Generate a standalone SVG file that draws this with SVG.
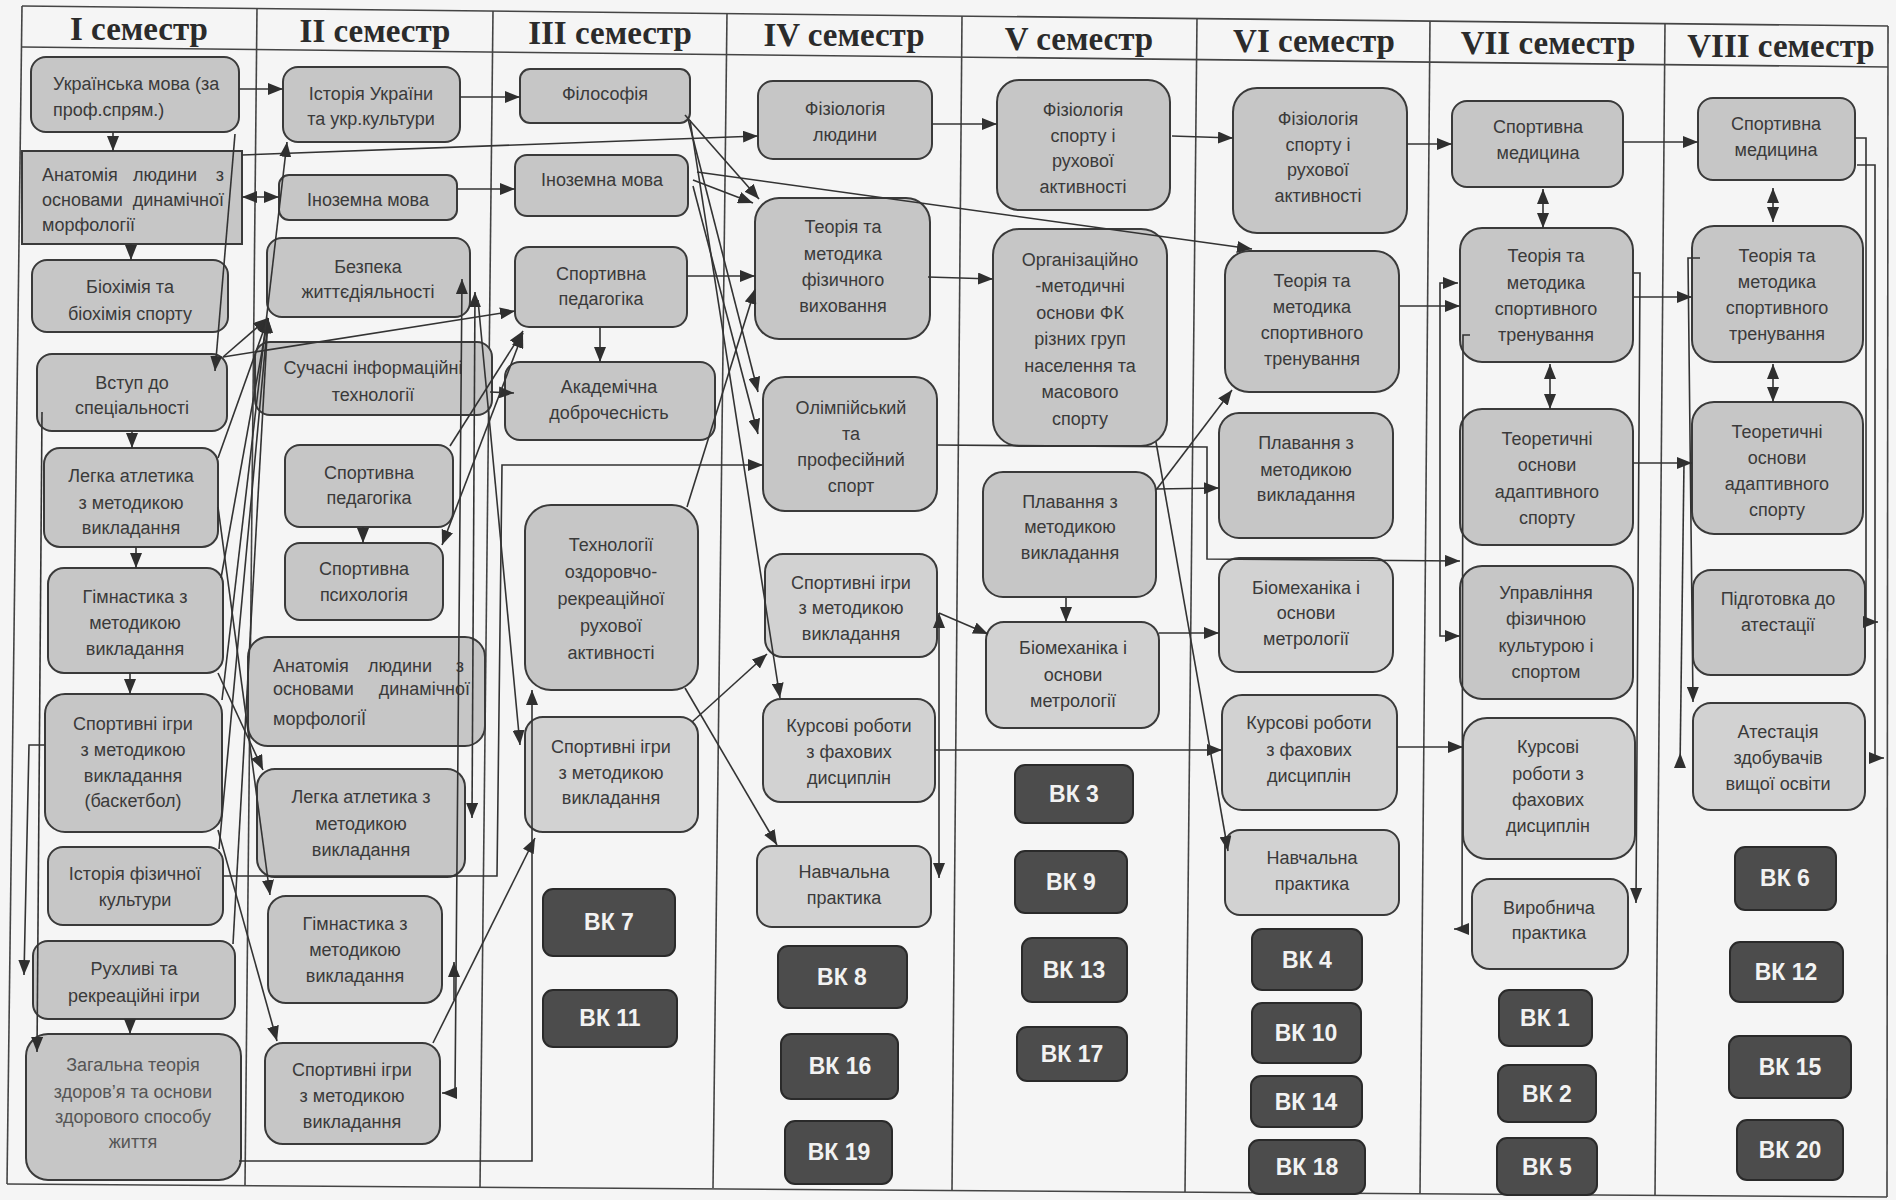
<svg xmlns="http://www.w3.org/2000/svg" width="1896" height="1200" viewBox="0 0 1896 1200">
<defs>
<style>
.n rect{fill:#c6c6c6;stroke:#3a3a3a;stroke-width:2}
.l rect{fill:#d2d2d2}
.vk rect{fill:#4c4c4c;stroke:#2a2a2a;stroke-width:2}
.t{font-family:"Liberation Sans",Arial,sans-serif;font-size:18px;fill:#3a3a3a;text-anchor:middle}
.s{text-anchor:start}
.e{text-anchor:end}
.vt{font-family:"Liberation Sans",Arial,sans-serif;font-size:23px;font-weight:bold;fill:#f2f2f2;text-anchor:middle}
.h{font-family:"Liberation Serif","Times New Roman",serif;font-size:33px;font-weight:bold;fill:#2b2b2b;text-anchor:middle}
.grid line{stroke:#444;stroke-width:1.6}
.c path{fill:none;stroke:#333;stroke-width:1.6}
</style>
<marker id="a" viewBox="0 0 15 12" refX="15" refY="6" markerWidth="15" markerHeight="12" markerUnits="userSpaceOnUse" orient="auto-start-reverse"><path d="M0,0L15,6L0,12z" fill="#2f2f2f"/></marker>
<marker id="b" viewBox="0 0 15 12" refX="0" refY="6" markerWidth="15" markerHeight="12" markerUnits="userSpaceOnUse" orient="auto"><path d="M0,0L15,6L0,12z" fill="#2f2f2f"/></marker>
</defs>
<rect x="0" y="0" width="1896" height="1200" fill="#f5f5f5"/>

<g id="grid" class="grid">
<line x1="22" y1="6" x2="1888" y2="26"/>
<line x1="22" y1="47" x2="1888" y2="67"/>
<line x1="7" y1="1184" x2="1887" y2="1197"/>
<line x1="22" y1="6" x2="7" y2="1184"/>
<line x1="257" y1="8" x2="245" y2="1185"/>
<line x1="493" y1="11" x2="480" y2="1187"/>
<line x1="727" y1="13" x2="713" y2="1188"/>
<line x1="962" y1="16" x2="952" y2="1190"/>
<line x1="1197" y1="18" x2="1185" y2="1192"/>
<line x1="1430" y1="21" x2="1420" y2="1194"/>
<line x1="1665" y1="23" x2="1655" y2="1195"/>
<line x1="1888" y1="26" x2="1887" y2="1197"/>
</g>

<g id="headers">
<text class="h" x="139" y="40">I семестр</text>
<text class="h" x="375" y="42">II семестр</text>
<text class="h" x="610" y="44">III семестр</text>
<text class="h" x="844" y="46">IV семестр</text>
<text class="h" x="1079" y="50">V семестр</text>
<text class="h" x="1314" y="52">VI семестр</text>
<text class="h" x="1548" y="54">VII семестр</text>
<text class="h" x="1781" y="57">VIII семестр</text>
</g>

<!-- Column I -->
<g id="i1" class="n"><rect x="31" y="57" width="208" height="75" rx="15"/><text class="t s"><tspan x="53" y="90">Українська мова (за</tspan><tspan x="53" y="116">проф.спрям.)</tspan></text></g>
<g id="i2" class="n"><rect x="22" y="151" width="220" height="93" rx="0"/>
<text class="t s" x="42" y="181">Анатомія</text><text class="t" x="165" y="181">людини</text><text class="t e" x="224" y="181">з</text>
<text class="t s" x="42" y="206">основами</text><text class="t e" x="224" y="206">динамічної</text>
<text class="t s" x="42" y="231">морфології</text></g>
<g id="i3" class="n"><rect x="32" y="260" width="196" height="72" rx="15"/><text class="t"><tspan x="130" y="293">Біохімія та</tspan><tspan x="130" y="320">біохімія спорту</tspan></text></g>
<g id="i4" class="n"><rect x="37" y="354" width="190" height="77" rx="15"/><text class="t"><tspan x="132" y="389">Вступ до</tspan><tspan x="132" y="414">спеціальності</tspan></text></g>
<g id="i5" class="n"><rect x="44" y="448" width="174" height="99" rx="16"/><text class="t"><tspan x="131" y="482">Легка атлетика</tspan><tspan x="131" y="509">з методикою</tspan><tspan x="131" y="534">викладання</tspan></text></g>
<g id="i6" class="n"><rect x="48" y="568" width="175" height="105" rx="16"/><text class="t"><tspan x="135" y="603">Гімнастика з</tspan><tspan x="135" y="629">методикою</tspan><tspan x="135" y="655">викладання</tspan></text></g>
<g id="i7" class="n"><rect x="45" y="694" width="177" height="138" rx="20"/><text class="t"><tspan x="133" y="730">Спортивні ігри</tspan><tspan x="133" y="756">з методикою</tspan><tspan x="133" y="782">викладання</tspan><tspan x="133" y="807">(баскетбол)</tspan></text></g>
<g id="i8" class="n"><rect x="48" y="847" width="175" height="78" rx="15"/><text class="t"><tspan x="135" y="880">Історія фізичної</tspan><tspan x="135" y="906">культури</tspan></text></g>
<g id="i9" class="n"><rect x="33" y="941" width="202" height="78" rx="15"/><text class="t"><tspan x="134" y="975">Рухливі та</tspan><tspan x="134" y="1002">рекреаційні ігри</tspan></text></g>
<g id="i10" class="n"><rect x="26" y="1034" width="215" height="146" rx="22"/><text class="t" style="fill:#555"><tspan x="133" y="1071">Загальна теорія</tspan><tspan x="133" y="1098">здоров’я  та основи</tspan><tspan x="133" y="1123">здорового способу</tspan><tspan x="133" y="1148">життя</tspan></text></g>

<!-- Column II -->
<g id="ii1" class="n"><rect x="283" y="67" width="177" height="75" rx="15"/><text class="t"><tspan x="371" y="100">Історія України</tspan><tspan x="371" y="125">та укр.культури</tspan></text></g>
<g id="ii2" class="n"><rect x="279" y="175" width="178" height="45" rx="10"/><text class="t" x="368" y="206">Іноземна мова</text></g>
<g id="ii3" class="n"><rect x="267" y="238" width="203" height="79" rx="15"/><text class="t"><tspan x="368" y="273">Безпека</tspan><tspan x="368" y="298">життєдіяльності</tspan></text></g>
<g id="ii4" class="n"><rect x="255" y="342" width="237" height="73" rx="15"/><text class="t"><tspan x="373" y="374">Сучасні інформаційні</tspan><tspan x="373" y="401">технології</tspan></text></g>
<g id="ii5" class="n"><rect x="285" y="445" width="168" height="82" rx="15"/><text class="t"><tspan x="369" y="479">Спортивна</tspan><tspan x="369" y="504">педагогіка</tspan></text></g>
<g id="ii6" class="n"><rect x="285" y="543" width="158" height="77" rx="15"/><text class="t"><tspan x="364" y="575">Спортивна</tspan><tspan x="364" y="601">психологія</tspan></text></g>
<g id="ii7" class="n"><rect x="248" y="637" width="237" height="109" rx="20"/>
<text class="t s" x="273" y="672">Анатомія</text><text class="t" x="400" y="672">людини</text><text class="t e" x="464" y="672">з</text>
<text class="t s" x="273" y="695">основами</text><text class="t e" x="470" y="695">динамічної</text>
<text class="t s" x="273" y="725">морфологіЇ</text></g>
<g id="ii8" class="n"><rect x="257" y="769" width="208" height="108" rx="18"/><text class="t"><tspan x="361" y="803">Легка атлетика з</tspan><tspan x="361" y="830">методикою</tspan><tspan x="361" y="856">викладання</tspan></text></g>
<g id="ii9" class="n"><rect x="268" y="896" width="174" height="107" rx="18"/><text class="t"><tspan x="355" y="930">Гімнастика з</tspan><tspan x="355" y="956">методикою</tspan><tspan x="355" y="982">викладання</tspan></text></g>
<g id="ii10" class="n"><rect x="265" y="1043" width="175" height="101" rx="18"/><text class="t"><tspan x="352" y="1076">Спортивні ігри</tspan><tspan x="352" y="1102">з методикою</tspan><tspan x="352" y="1128">викладання</tspan></text></g>

<!-- Column III -->
<g id="iii1" class="n"><rect x="520" y="69" width="170" height="54" rx="10"/><text class="t" x="605" y="100">Філософія</text></g>
<g id="iii2" class="n"><rect x="515" y="155" width="173" height="61" rx="12"/><text class="t" x="602" y="186">Іноземна мова</text></g>
<g id="iii3" class="n"><rect x="515" y="247" width="172" height="80" rx="14"/><text class="t"><tspan x="601" y="280">Спортивна</tspan><tspan x="601" y="305">педагогіка</tspan></text></g>
<g id="iii4" class="n"><rect x="505" y="362" width="210" height="78" rx="15"/><text class="t"><tspan x="609" y="393">Академічна</tspan><tspan x="609" y="419">доброчесність</tspan></text></g>
<g id="iii5" class="n"><rect x="525" y="505" width="173" height="185" rx="26"/><text class="t"><tspan x="611" y="551">Технології</tspan><tspan x="611" y="578">оздоровчо-</tspan><tspan x="611" y="605">рекреаційної</tspan><tspan x="611" y="632">рухової</tspan><tspan x="611" y="659">активності</tspan></text></g>
<g id="iii6" class="n l"><rect x="525" y="717" width="173" height="115" rx="18"/><text class="t"><tspan x="611" y="753">Спортивні ігри</tspan><tspan x="611" y="779">з методикою</tspan><tspan x="611" y="804">викладання</tspan></text></g>
<g id="vk7" class="vk"><rect x="543" y="889" width="132" height="67" rx="10"/><text class="vt" x="609" y="930">ВК 7</text></g>
<g id="vk11" class="vk"><rect x="543" y="990" width="134" height="57" rx="10"/><text class="vt" x="610" y="1026">ВК 11</text></g>

<!-- Column IV -->
<g id="iv1" class="n"><rect x="758" y="81" width="174" height="78" rx="15"/><text class="t"><tspan x="845" y="115">Фізіологія</tspan><tspan x="845" y="141">людини</tspan></text></g>
<g id="iv2" class="n"><rect x="755" y="198" width="175" height="141" rx="24"/><text class="t"><tspan x="843" y="233">Теорія та</tspan><tspan x="843" y="260">методика</tspan><tspan x="843" y="286">фізичного</tspan><tspan x="843" y="312">виховання</tspan></text></g>
<g id="iv3" class="n"><rect x="763" y="377" width="174" height="134" rx="22"/><text class="t"><tspan x="851" y="414">Олімпійський</tspan><tspan x="851" y="440">та</tspan><tspan x="851" y="466">професійний</tspan><tspan x="851" y="492">спорт</tspan></text></g>
<g id="iv4" class="n l"><rect x="765" y="554" width="172" height="103" rx="18"/><text class="t"><tspan x="851" y="589">Спортивні ігри</tspan><tspan x="851" y="614">з методикою</tspan><tspan x="851" y="640">викладання</tspan></text></g>
<g id="iv5" class="n l"><rect x="763" y="699" width="172" height="103" rx="18"/><text class="t"><tspan x="849" y="732">Курсові роботи</tspan><tspan x="849" y="758">з фахових</tspan><tspan x="849" y="784">дисциплін</tspan></text></g>
<g id="iv6" class="n l"><rect x="757" y="846" width="174" height="81" rx="15"/><text class="t"><tspan x="844" y="878">Навчальна</tspan><tspan x="844" y="904">практика</tspan></text></g>
<g id="vk8" class="vk"><rect x="778" y="946" width="129" height="62" rx="10"/><text class="vt" x="842" y="985">ВК 8</text></g>
<g id="vk16" class="vk"><rect x="781" y="1034" width="117" height="65" rx="10"/><text class="vt" x="840" y="1074">ВК 16</text></g>
<g id="vk19" class="vk"><rect x="785" y="1121" width="107" height="63" rx="10"/><text class="vt" x="839" y="1160">ВК 19</text></g>

<!-- Column V -->
<g id="v1" class="n"><rect x="997" y="80" width="173" height="130" rx="22"/><text class="t"><tspan x="1083" y="116">Фізіологія</tspan><tspan x="1083" y="142">спорту і</tspan><tspan x="1083" y="167">рухової</tspan><tspan x="1083" y="193">активності</tspan></text></g>
<g id="v2" class="n"><rect x="993" y="229" width="174" height="217" rx="26"/><text class="t"><tspan x="1080" y="266">Організаційно</tspan><tspan x="1080" y="292">-методичні</tspan><tspan x="1080" y="319">основи ФК</tspan><tspan x="1080" y="345">різних груп</tspan><tspan x="1080" y="372">населення та</tspan><tspan x="1080" y="398">масового</tspan><tspan x="1080" y="425">спорту</tspan></text></g>
<g id="v3" class="n"><rect x="983" y="472" width="173" height="125" rx="20"/><text class="t"><tspan x="1070" y="508">Плавання з</tspan><tspan x="1070" y="533">методикою</tspan><tspan x="1070" y="559">викладання</tspan></text></g>
<g id="v4" class="n l"><rect x="986" y="622" width="173" height="106" rx="18"/><text class="t"><tspan x="1073" y="654">Біомеханіка і</tspan><tspan x="1073" y="681">основи</tspan><tspan x="1073" y="707">метрології</tspan></text></g>
<g id="vk3" class="vk"><rect x="1015" y="765" width="118" height="58" rx="10"/><text class="vt" x="1074" y="802">ВК 3</text></g>
<g id="vk9" class="vk"><rect x="1015" y="851" width="112" height="62" rx="10"/><text class="vt" x="1071" y="890">ВК 9</text></g>
<g id="vk13" class="vk"><rect x="1022" y="938" width="105" height="64" rx="10"/><text class="vt" x="1074" y="978">ВК 13</text></g>
<g id="vk17" class="vk"><rect x="1017" y="1027" width="110" height="54" rx="10"/><text class="vt" x="1072" y="1062">ВК 17</text></g>

<!-- Column VI -->
<g id="vi1" class="n"><rect x="1233" y="88" width="174" height="145" rx="24"/><text class="t"><tspan x="1318" y="125">Фізіологія</tspan><tspan x="1318" y="151">спорту і</tspan><tspan x="1318" y="176">рухової</tspan><tspan x="1318" y="202">активності</tspan></text></g>
<g id="vi2" class="n"><rect x="1225" y="251" width="174" height="141" rx="24"/><text class="t"><tspan x="1312" y="287">Теорія та</tspan><tspan x="1312" y="313">методика</tspan><tspan x="1312" y="339">спортивного</tspan><tspan x="1312" y="365">тренування</tspan></text></g>
<g id="vi3" class="n"><rect x="1219" y="413" width="174" height="125" rx="20"/><text class="t"><tspan x="1306" y="449">Плавання з</tspan><tspan x="1306" y="476">методикою</tspan><tspan x="1306" y="501">викладання</tspan></text></g>
<g id="vi4" class="n l"><rect x="1219" y="558" width="174" height="114" rx="20"/><text class="t"><tspan x="1306" y="594">Біомеханіка і</tspan><tspan x="1306" y="619">основи</tspan><tspan x="1306" y="645">метрології</tspan></text></g>
<g id="vi5" class="n l"><rect x="1222" y="695" width="175" height="115" rx="20"/><text class="t"><tspan x="1309" y="729">Курсові роботи</tspan><tspan x="1309" y="756">з фахових</tspan><tspan x="1309" y="782">дисциплін</tspan></text></g>
<g id="vi6" class="n l"><rect x="1225" y="830" width="174" height="85" rx="15"/><text class="t"><tspan x="1312" y="864">Навчальна</tspan><tspan x="1312" y="890">практика</tspan></text></g>
<g id="vk4" class="vk"><rect x="1252" y="929" width="110" height="61" rx="10"/><text class="vt" x="1307" y="968">ВК 4</text></g>
<g id="vk10" class="vk"><rect x="1252" y="1003" width="109" height="60" rx="10"/><text class="vt" x="1306" y="1041">ВК 10</text></g>
<g id="vk14" class="vk"><rect x="1251" y="1076" width="111" height="51" rx="10"/><text class="vt" x="1306" y="1110">ВК 14</text></g>
<g id="vk18" class="vk"><rect x="1249" y="1140" width="116" height="54" rx="10"/><text class="vt" x="1307" y="1175">ВК 18</text></g>

<!-- Column VII -->
<g id="vii1" class="n"><rect x="1452" y="101" width="171" height="86" rx="15"/><text class="t"><tspan x="1538" y="133">Спортивна</tspan><tspan x="1538" y="159">медицина</tspan></text></g>
<g id="vii2" class="n"><rect x="1460" y="228" width="173" height="134" rx="22"/><text class="t"><tspan x="1546" y="262">Теорія та</tspan><tspan x="1546" y="289">методика</tspan><tspan x="1546" y="315">спортивного</tspan><tspan x="1546" y="341">тренування</tspan></text></g>
<g id="vii3" class="n"><rect x="1460" y="409" width="173" height="136" rx="22"/><text class="t"><tspan x="1547" y="445">Теоретичні</tspan><tspan x="1547" y="471">основи</tspan><tspan x="1547" y="498">адаптивного</tspan><tspan x="1547" y="524">спорту</tspan></text></g>
<g id="vii4" class="n"><rect x="1460" y="566" width="173" height="133" rx="22"/><text class="t"><tspan x="1546" y="599">Управління</tspan><tspan x="1546" y="625">фізичною</tspan><tspan x="1546" y="652">культурою і</tspan><tspan x="1546" y="678">спортом</tspan></text></g>
<g id="vii5" class="n l"><rect x="1463" y="718" width="172" height="141" rx="24"/><text class="t"><tspan x="1548" y="753">Курсові</tspan><tspan x="1548" y="780">роботи з</tspan><tspan x="1548" y="806">фахових</tspan><tspan x="1548" y="832">дисциплін</tspan></text></g>
<g id="vii6" class="n l"><rect x="1472" y="879" width="156" height="90" rx="18"/><text class="t"><tspan x="1549" y="914">Виробнича</tspan><tspan x="1549" y="939">практика</tspan></text></g>
<g id="vk1" class="vk"><rect x="1499" y="990" width="93" height="56" rx="10"/><text class="vt" x="1545" y="1026">ВК 1</text></g>
<g id="vk2" class="vk"><rect x="1498" y="1065" width="98" height="57" rx="10"/><text class="vt" x="1547" y="1102">ВК 2</text></g>
<g id="vk5" class="vk"><rect x="1497" y="1138" width="100" height="57" rx="10"/><text class="vt" x="1547" y="1175">ВК 5</text></g>

<!-- Column VIII -->
<g id="viii1" class="n"><rect x="1698" y="98" width="157" height="82" rx="15"/><text class="t"><tspan x="1776" y="130">Спортивна</tspan><tspan x="1776" y="156">медицина</tspan></text></g>
<g id="viii2" class="n"><rect x="1692" y="226" width="171" height="136" rx="22"/><text class="t"><tspan x="1777" y="262">Теорія та</tspan><tspan x="1777" y="288">методика</tspan><tspan x="1777" y="314">спортивного</tspan><tspan x="1777" y="340">тренування</tspan></text></g>
<g id="viii3" class="n"><rect x="1692" y="402" width="171" height="132" rx="22"/><text class="t"><tspan x="1777" y="438">Теоретичні</tspan><tspan x="1777" y="464">основи</tspan><tspan x="1777" y="490">адаптивного</tspan><tspan x="1777" y="516">спорту</tspan></text></g>
<g id="viii4" class="n"><rect x="1693" y="570" width="172" height="105" rx="18"/><text class="t"><tspan x="1778" y="605">Підготовка до</tspan><tspan x="1778" y="631">атестації</tspan></text></g>
<g id="viii5" class="n l"><rect x="1693" y="703" width="172" height="107" rx="18"/><text class="t"><tspan x="1778" y="738">Атестація</tspan><tspan x="1778" y="764">здобувачів</tspan><tspan x="1778" y="790">вищої освіти</tspan></text></g>
<g id="vk6" class="vk"><rect x="1735" y="847" width="101" height="63" rx="10"/><text class="vt" x="1785" y="886">ВК 6</text></g>
<g id="vk12" class="vk"><rect x="1730" y="942" width="113" height="60" rx="10"/><text class="vt" x="1786" y="980">ВК 12</text></g>
<g id="vk15" class="vk"><rect x="1729" y="1036" width="122" height="62" rx="10"/><text class="vt" x="1790" y="1075">ВК 15</text></g>
<g id="vk20" class="vk"><rect x="1737" y="1120" width="106" height="60" rx="10"/><text class="vt" x="1790" y="1158">ВК 20</text></g>

<g id="connectors" class="c">
<path d="M113,132 L113,151" marker-end="url(#a)"/>
<path d="M131,244 L131,260" marker-end="url(#a)"/>
<path d="M132,431 L132,448" marker-end="url(#a)"/>
<path d="M136,547 L136,568" marker-end="url(#a)"/>
<path d="M130,673 L130,694" marker-end="url(#a)"/>
<path d="M130,1019 L130,1034" marker-end="url(#a)"/>
<path d="M239,89 L283,89" marker-end="url(#a)"/>
<path d="M242,197 L279,197" marker-start="url(#a)" marker-end="url(#a)"/>
<path d="M235,134 L215,371" marker-end="url(#a)"/>
<path d="M242,155 L758,136" marker-end="url(#a)"/>
<path d="M223,357 L515,311" marker-end="url(#a)"/>
<path d="M223,357 L268,318" marker-end="url(#a)"/>
<path d="M218,458 L268,318" marker-end="url(#a)"/>
<path d="M221,578 L268,318" marker-end="url(#a)"/>
<path d="M219,849 L268,318" marker-end="url(#a)"/>
<path d="M233,944 L268,318" marker-end="url(#a)"/>
<path d="M222,700 L287,142" marker-end="url(#a)"/>
<path d="M42,412 L37,1052" marker-end="url(#a)"/>
<path d="M45,745 L29,745 L24,975" marker-end="url(#a)"/>
<path d="M218,507 L270,895" marker-end="url(#a)"/>
<path d="M218,673 L263,770" marker-end="url(#a)"/>
<path d="M218,830 L277,1041" marker-end="url(#a)"/>
<path d="M239,1161 L532,1161 L532,690" marker-end="url(#a)"/>
<path d="M223,876 L497,876 L502,465 L763,465" marker-end="url(#a)"/>
<path d="M460,97 L520,97" marker-end="url(#a)"/>
<path d="M457,189 L515,189" marker-end="url(#a)"/>
<path d="M490,392 L514,393" marker-end="url(#a)"/>
<path d="M363,527 L363,543" marker-end="url(#a)"/>
<path d="M450,446 L523,331" marker-end="url(#a)"/>
<path d="M442,545 L523,333" marker-start="url(#a)" marker-end="url(#a)"/>
<path d="M462,279 L455,1093 L442,1093" marker-start="url(#a)" marker-end="url(#a)"/>
<path d="M454,1000 L454,962" marker-end="url(#a)"/>
<path d="M475,292 L472,818" marker-start="url(#a)" marker-end="url(#a)"/>
<path d="M478,300 L520,745" marker-end="url(#a)"/>
<path d="M685,115 L759,199" marker-end="url(#a)"/>
<path d="M688,119 L758,392" marker-end="url(#a)"/>
<path d="M693,180 L753,203" marker-end="url(#a)"/>
<path d="M697,172 L1252,249" marker-end="url(#a)"/>
<path d="M693,186 L758,434" marker-end="url(#a)"/>
<path d="M687,276 L755,276" marker-end="url(#a)"/>
<path d="M600,327 L600,362" marker-end="url(#a)"/>
<path d="M687,507 L755,289" marker-end="url(#a)"/>
<path d="M690,120 L780,698" marker-end="url(#a)"/>
<path d="M692,722 L767,654" marker-end="url(#a)"/>
<path d="M685,688 L777,845" marker-end="url(#a)"/>
<path d="M433,1043 L535,838" marker-end="url(#a)"/>
<path d="M932,124 L997,124" marker-end="url(#a)"/>
<path d="M928,277 L993,279" marker-end="url(#a)"/>
<path d="M937,445 L1207,447 L1207,559 L1460,561" marker-end="url(#a)"/>
<path d="M935,750 L1222,750" marker-end="url(#a)"/>
<path d="M939,613 L988,634" marker-end="url(#a)"/>
<path d="M939,613 L939,878" marker-start="url(#a)" marker-end="url(#a)"/>
<path d="M1066,598 L1066,622" marker-end="url(#a)"/>
<path d="M1172,136 L1233,138" marker-end="url(#a)"/>
<path d="M1156,490 L1232,390" marker-end="url(#a)"/>
<path d="M1156,489 L1219,488" marker-end="url(#a)"/>
<path d="M1159,633 L1219,633" marker-end="url(#a)"/>
<path d="M1156,442 L1228,851" marker-end="url(#a)"/>
<path d="M1407,144 L1452,144" marker-end="url(#a)"/>
<path d="M1399,306 L1460,306" marker-end="url(#a)"/>
<path d="M1458,283 L1440,283 L1440,636 L1460,636" marker-start="url(#a)" marker-end="url(#a)"/>
<path d="M1397,747 L1463,747" marker-end="url(#a)"/>
<path d="M1543,189 L1543,228" marker-start="url(#a)" marker-end="url(#a)"/>
<path d="M1550,364 L1550,409" marker-start="url(#a)" marker-end="url(#a)"/>
<path d="M1633,297 L1692,297" marker-end="url(#a)"/>
<path d="M1633,463 L1692,463" marker-end="url(#a)"/>
<path d="M1623,142 L1698,142" marker-end="url(#a)"/>
<path d="M1470,335 L1463,335 L1462,929 L1454,929" marker-end="url(#a)"/>
<path d="M1633,273 L1640,273 L1636,903" marker-end="url(#a)"/>
<path d="M1773,188 L1773,222" marker-start="url(#a)" marker-end="url(#a)"/>
<path d="M1773,364 L1773,402" marker-start="url(#a)" marker-end="url(#a)"/>
<path d="M1855,138 L1866,138 L1866,622 L1878,622" marker-end="url(#a)"/>
<path d="M1857,165 L1875,165 L1875,758 L1884,758" marker-end="url(#a)"/>
<path d="M1700,258 L1688,258 L1693,702" marker-end="url(#a)"/>
<path d="M1680,768 L1684,463" marker-start="url(#b)"/>
</g>
</svg>
